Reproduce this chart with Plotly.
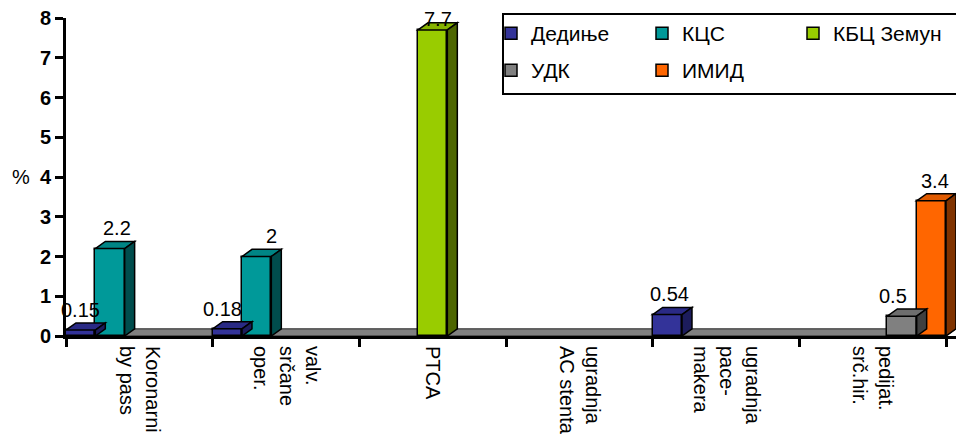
import plotly.graph_objects as go

# ---------------- data ----------------
categories = ["Koronarni<br>by pass", "valv.<br>srčane<br>oper.", "PTCA",
              "ugradnja<br>AC stenta", "ugradnja<br>pace-<br>makera", "pedijat.<br>srč.hir."]
series_names = ["Дедиње", "КЦС", "КБЦ Земун", "УДК", "ИМИД"]
dedinje = [0.15, 0.18, None, None, 0.54, None]
kcs = [2.2, 2, None, None, None, None]
kbc_zemun = [None, None, 7.7, None, None, None]
udk = [None, None, None, None, None, 0.5]
imid = [None, None, None, None, None, 3.4]
y_ticks = [0, 1, 2, 3, 4, 5, 6, 7, 8]
y_label = "%"

series_values = [dedinje, kcs, kbc_zemun, udk, imid]

# ---------------- styles ----------------
FONT = "Liberation Sans, Arial, sans-serif"
front_colors = ["#333399", "#009999", "#99CC00", "#808080", "#FF6600"]
top_colors = ["#2a2a85", "#008585", "#86b300", "#6e6e6e", "#e05a00"]
side_colors = ["#1c1c5c", "#004d4d", "#4d6600", "#404040", "#803300"]
legend_ids = ["legend", "legend", "legend", "legend2", "legend2"]
# label placement tweaks (pixels), keyed by (series index, category index)
label_shift = {(0, 0): (-5, 0), (1, 0): (2, 0), (0, 1): (-10, 0), (1, 1): (10, 0),
               (2, 2): (0, -9), (0, 4): (-3, 0), (3, 5): (-14, 0), (4, 5): (-1, 0)}

n_series = len(series_names)
slot = 1.0 / n_series          # group width 1, bargap 0
dx = 0.068                     # 3D depth along x (category units)
dy = 0.18                      # 3D depth along y (value units)
x_pos = list(range(len(categories)))

fig = go.Figure()
for s, (name, vals) in enumerate(zip(series_names, series_values)):
    fig.add_trace(go.Bar(
        x=x_pos, y=vals, name=name,
        marker=dict(color=front_colors[s], line=dict(color="black", width=1.5)),
        legend=legend_ids[s],
    ))

shapes = []
annotations = []
# floor (drawn below bars)
x_lo, x_hi = -0.5, len(categories) - 0.5
shapes.append(dict(type="path", xref="x", yref="y", layer="below",
                   path=f"M {x_lo},0 L {x_lo+dx},{dy} L {x_hi+dx},{dy} L {x_hi},0 Z",
                   fillcolor="#808080", line=dict(color="#222222", width=1)))

for s, vals in enumerate(series_values):
    for i, v in enumerate(vals):
        if v is None:
            continue
        x0 = i - 0.5 + s * slot
        x1 = x0 + slot
        # top face
        shapes.append(dict(type="path", xref="x", yref="y", layer="above",
                           path=f"M {x0},{v} L {x0+dx},{v+dy} L {x1+dx},{v+dy} L {x1},{v} Z",
                           fillcolor=top_colors[s], line=dict(color="black", width=1.5)))
        # side face
        shapes.append(dict(type="path", xref="x", yref="y", layer="above",
                           path=f"M {x1},0 L {x1+dx},{dy} L {x1+dx},{v+dy} L {x1},{v} Z",
                           fillcolor=side_colors[s], line=dict(color="black", width=1.5)))
        sx, sy = label_shift.get((s, i), (0, 0))
        annotations.append(dict(x=(x0 + x1) / 2 + dx / 2, y=v + dy, xref="x", yref="y",
                                text=f"{v:g}", showarrow=False, yanchor="bottom",
                                xshift=sx, yshift=sy,
                                font=dict(family=FONT, size=20, color="black")))

# "%" axis label
annotations.append(dict(x=(21 - 66) / 890, y=4, xref="paper", yref="y", text=y_label,
                        showarrow=False, xanchor="center",
                        font=dict(family=FONT, size=20, color="black")))

# legend frame
shapes.append(dict(type="rect", xref="paper", yref="paper",
                   x0=(503 - 66) / 890, x1=1.02, y0=(336 - 94) / 318, y1=(336 - 14) / 318,
                   line=dict(color="black", width=2), fillcolor="white", layer="below"))

legend_common = dict(orientation="h", xref="container", yref="container",
                     xanchor="left", yanchor="top", entrywidth=106, entrywidthmode="pixels",
                     bgcolor="rgba(0,0,0,0)", font=dict(family=FONT, size=21),
                     traceorder="normal")

fig.update_layout(
    width=956, height=441,
    margin=dict(l=66, r=0, t=18, b=105, autoexpand=False),
    paper_bgcolor="white", plot_bgcolor="white",
    barmode="group", bargap=0, bargroupgap=0,
    font=dict(family=FONT, size=20, color="black"),
    shapes=shapes, annotations=annotations,
    legend=dict(x=491 / 956, y=1 - 13 / 441, **legend_common),
    legend2=dict(x=491 / 956, y=1 - 50 / 441, **legend_common),
    xaxis=dict(range=[x_lo, x_hi + dx], tickmode="array", tickvals=x_pos, ticktext=categories,
               tickangle=90, ticks="outside", ticklen=3, tickcolor="rgba(0,0,0,0)",
               showline=True, linecolor="black", linewidth=3, showgrid=False, zeroline=False,
               tickfont=dict(family=FONT, size=20),
               minor=dict(tickmode="array", tickvals=[x - 0.5 for x in range(len(categories) + 1)],
                          ticks="outside", ticklen=8, tickwidth=2.5, tickcolor="black", showgrid=False)),
    yaxis=dict(range=[0, 8], tickmode="array", tickvals=y_ticks, ticks="outside", ticklen=8,
               tickwidth=2.5, tickcolor="black", showline=True, linecolor="black", linewidth=3,
               showgrid=False, zeroline=False,
               tickfont=dict(family=FONT, size=20, color="black", weight="bold")),
    showlegend=True,
)

fig.write_html("out.html")
